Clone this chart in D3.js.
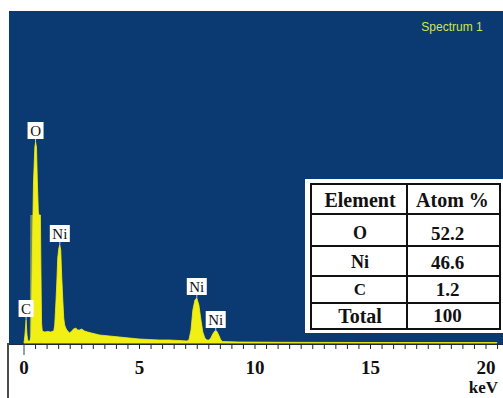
<!DOCTYPE html>
<html>
<head>
<meta charset="utf-8">
<script src="https://cdn.jsdelivr.net/npm/d3@7"></script>
<style>
  html, body { margin: 0; padding: 0; background: #fff; }
  svg { display: block; }
</style>
</head>
<body>
<svg id="chart" width="503" height="398"></svg>
<script>
// EDS spectrum: energy (keV) and counts (relative, O Kα peak ≈ 100)
const energy = [
  0.00, 0.04, 0.09, 0.13, 0.17, 0.22, 0.26, 0.30, 0.33, 0.37, 0.41, 0.47, 0.50,
  0.54, 0.58, 0.62, 0.64, 0.71, 0.73, 0.76, 0.79, 0.90, 1.03, 1.15, 1.29, 1.33,
  1.38, 1.42, 1.46, 1.51, 1.55, 1.59, 1.63, 1.68, 1.72, 1.76, 1.81, 1.85, 1.89,
  1.98, 2.06, 2.15, 2.24, 2.32, 2.41, 2.49, 2.62, 2.75, 2.92, 3.10, 3.27, 3.70,
  4.13, 4.56, 4.99, 5.42, 5.85, 6.28, 6.71, 7.05, 7.14, 7.23, 7.31, 7.40, 7.48,
  7.57, 7.66, 7.74, 7.83, 7.91, 8.00, 8.09, 8.17, 8.26, 8.34, 8.43, 8.52, 8.60,
  9.29, 11.01, 12.73, 14.45, 16.17, 17.89, 19.61, 20.47
];
const counts = [
  0, 4, 11.5, 4, 1, 1, 1, 3, 20, 50, 80, 98, 100.5,
  98, 80, 66, 64, 64, 40, 10, 6, 5.5, 5.8, 5.5, 6, 9,
  20, 30, 42.5, 47.5, 49, 46.5, 34, 21.5, 12.5, 9, 7.5, 6.5, 6,
  5, 6, 7, 7.5, 6.5, 6.5, 7, 6, 5.5, 5, 4.5, 4, 3.5,
  3, 2.5, 2, 1.75, 1.5, 1.5, 1.25, 1, 1.5, 6.5, 16.5, 21.5, 22.5,
  19, 11.5, 5.5, 2.5, 1.5, 1.5, 2.5, 4.5, 6, 6, 4, 1.5, 0.75,
  0.5, 0.35, 0.3, 0.25, 0.25, 0.2, 0.2, 0.2
];
// faint overlapping shoulder on the low-energy side of the O peak
const shoulderEnergy = [0.25, 0.27, 0.47, 0.49];
const shoulderCounts = [0, 64, 64, 0];

// peak identifications
const peakNames  = ["C", "O", "Ni", "Ni", "Ni"];
const peakEnergy = [0.09, 0.50, 1.55, 7.48, 8.30];
const peakCounts = [11.5, 100.5, 49, 22.5, 6];

// quantification table
const tableHeader = ["Element", "Atom %"];
const elements = ["O", "Ni", "C", "Total"];
const atomPct  = ["52.2", "46.6", "1.2", "100"];

const tickValues = [0, 5, 10, 15, 20];
const axisUnit = "keV";
const spectrumTitle = "Spectrum 1";

const W = 503, H = 398;
const panel = { left: 9, top: 11, right: 503, bottom: 344 };

const svg = d3.select("#chart");
const x = d3.scaleLinear().domain([0, 20]).range([24, 486]);
const y = d3.scaleLinear().domain([0, 100]).range([343, 143]);

// blue plot background
svg.append("rect")
  .attr("x", panel.left).attr("y", panel.top)
  .attr("width", panel.right - panel.left).attr("height", panel.bottom - panel.top)
  .attr("fill", "#0b3a72");

svg.append("clipPath").attr("id", "clip")
  .append("rect")
  .attr("x", panel.left).attr("y", panel.top)
  .attr("width", panel.right - panel.left).attr("height", panel.bottom - panel.top);

const plot = svg.append("g").attr("clip-path", "url(#clip)");

const area = d3.area()
  .x(d => x(d[0]))
  .y0(y(0))
  .y1(d => y(d[1]));

plot.append("path")
  .datum(d3.zip(shoulderEnergy, shoulderCounts))
  .attr("d", area)
  .attr("fill", "#c9d64a")
  .attr("opacity", 0.55);

plot.append("path")
  .datum(d3.zip(energy, counts))
  .attr("d", area)
  .attr("fill", "#f2ef14")
  .attr("stroke", "#f2ef14")
  .attr("stroke-width", 0.8);

// spectrum name
svg.append("text")
  .attr("x", 452).attr("y", 31)
  .attr("text-anchor", "middle")
  .attr("font-family", "Liberation Sans, Arial, sans-serif")
  .attr("font-size", 12)
  .attr("fill", "#d3e352")
  .text(spectrumTitle);

// peak labels
const labels = svg.append("g");
peakNames.forEach((name, i) => {
  const px = x(peakEnergy[i]);
  const py = y(peakCounts[i]);
  const g = labels.append("g");
  const t = g.append("text")
    .attr("x", px).attr("y", py - 7)
    .attr("text-anchor", "middle")
    .attr("font-family", "Liberation Serif, Times New Roman, serif")
    .attr("font-size", 15)
    .attr("fill", "#111")
    .text(name);
  const bb = t.node().getBBox();
  const bh = 17, bw = bb.width + 5;
  const by = py - 3 - bh;
  g.insert("rect", "text")
    .attr("x", px - bw / 2).attr("y", by)
    .attr("width", bw).attr("height", bh)
    .attr("fill", "#fff");
  t.attr("y", by + 13.5);
  g.append("line")
    .attr("x1", px).attr("x2", px)
    .attr("y1", by + bh).attr("y2", py)
    .attr("stroke", "#a9c8ea").attr("stroke-width", 1);
});

// quantification table
const tbl = { left: 311, right: 500, top: 184, colSplit: 407 };
const rowLines = [184, 214, 246, 276, 303, 329];
svg.append("rect")
  .attr("x", 305).attr("y", 179)
  .attr("width", 198).attr("height", 154)
  .attr("fill", "#fff");
const tg = svg.append("g").attr("stroke", "#111").attr("stroke-width", 2);
tg.append("rect")
  .attr("x", tbl.left).attr("y", rowLines[0])
  .attr("width", tbl.right - tbl.left).attr("height", rowLines[rowLines.length - 1] - rowLines[0])
  .attr("fill", "none");
rowLines.slice(1, -1).forEach(ry => {
  tg.append("line").attr("x1", tbl.left).attr("x2", tbl.right).attr("y1", ry).attr("y2", ry);
});
tg.append("line")
  .attr("x1", tbl.colSplit).attr("x2", tbl.colSplit)
  .attr("y1", rowLines[0]).attr("y2", rowLines[rowLines.length - 1]);

const serif = "Liberation Serif, Times New Roman, serif";
const colCenter = [(tbl.left + tbl.colSplit) / 2 + 1, (tbl.colSplit + tbl.right) / 2 - 1];
const tt = svg.append("g")
  .attr("font-family", serif).attr("font-weight", "bold").attr("fill", "#111")
  .attr("text-anchor", "middle");
tt.append("text").attr("x", colCenter[0]).attr("y", 207).attr("font-size", 20).text(tableHeader[0]);
tt.append("text").attr("x", colCenter[1]).attr("y", 207).attr("font-size", 20).text(tableHeader[1]);
const rowBase = [239, 268, 295, 323];
const rowSize = [18, 18, 17, 20];
elements.forEach((el, i) => {
  tt.append("text").attr("x", colCenter[0]).attr("y", rowBase[i]).attr("font-size", rowSize[i]).text(el);
  tt.append("text").attr("x", colCenter[1] - 5).attr("y", rowBase[i] + (i === 3 ? -1 : 1))
    .attr("font-size", 19).text(atomPct[i]);
});

// energy axis
const axisG = svg.append("g").attr("transform", `translate(0,${panel.bottom})`);
axisG.append("line")
  .attr("x1", panel.left).attr("x2", panel.right)
  .attr("y1", 0.5).attr("y2", 0.5)
  .attr("stroke", "#1a2a45").attr("stroke-width", 1);
const minor = d3.range(0, 20.51, 0.5);
axisG.selectAll("line.tick").data(minor).enter().append("line")
  .attr("class", "tick")
  .attr("x1", d => x(d)).attr("x2", d => x(d))
  .attr("y1", 0).attr("y2", d => d === 0 ? 11 : 5)
  .attr("stroke", d => d === 0 ? "#22406a" : "#222").attr("stroke-width", 1);
axisG.selectAll("text.tl").data(tickValues).enter().append("text")
  .attr("class", "tl")
  .attr("x", d => x(d)).attr("y", 30)
  .attr("text-anchor", "middle")
  .attr("font-family", serif).attr("font-weight", "bold").attr("font-size", 19)
  .attr("fill", "#111")
  .text(d => d);
svg.append("text")
  .attr("x", 498).attr("y", 393)
  .attr("text-anchor", "end")
  .attr("font-family", serif).attr("font-weight", "bold").attr("font-size", 17)
  .attr("fill", "#111")
  .text(axisUnit);

// left frame edge below the plot
svg.append("line")
  .attr("x1", 8).attr("x2", 8)
  .attr("y1", panel.bottom - 1).attr("y2", H)
  .attr("stroke", "#111").attr("stroke-width", 1.5);
</script>
</body>
</html>
